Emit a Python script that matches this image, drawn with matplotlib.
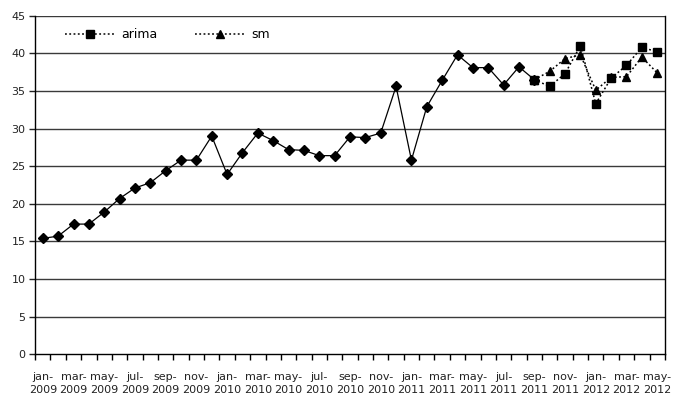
import matplotlib.pyplot as plt
import numpy as np

plt.rcParams['font.family'] = ['DejaVu Sans']

# monthly labels, jan 2009 .. may 2012 (41 months)
months = ['jan', 'feb', 'mar', 'apr', 'may', 'jun', 'jul', 'aug', 'sep', 'oct', 'nov', 'dec']
categories = [f"{months[i % 12]}-\n{2009 + i // 12}" for i in range(41)]

# observed series (jan 2009 .. sep 2011)
actual = [15.4, 15.7, 17.3, 17.3, 18.9, 20.7, 22.1, 22.8, 24.4, 25.8,
          25.8, 29.0, 23.9, 26.8, 29.4, 28.4, 27.2, 27.1, 26.4, 26.4,
          28.9, 28.8, 29.4, 35.6, 25.8, 32.9, 36.4, 39.8, 38.1, 38.1,
          35.8, 38.2, 36.5]
# forecasts (sep 2011 .. may 2012)
arima = [36.5, 35.6, 37.3, 41.0, 33.3, 36.7, 38.4, 40.8, 40.2]
sm = [36.5, 37.6, 39.3, 39.8, 35.1, 36.8, 36.9, 39.5, 37.4]

x_act = np.arange(len(actual))
x_fc = np.arange(len(actual) - 1, len(actual) - 1 + len(arima))

fig = plt.figure(figsize=(6.75, 4.03), dpi=100)
ax = fig.add_axes([0.052, 0.121, 0.933, 0.840])

for v in range(5, 46, 5):
    ax.axhline(v, color='#3a3a3a', lw=1.0, zorder=1)

ax.plot(x_act, actual, color='black', lw=0.9, marker='D', ms=5, zorder=3)
ax.plot(x_fc, sm, color='black', lw=1.1, ls=(0, (1.2, 1.6)), marker='^', ms=6, label='sm', zorder=4)
ax.plot(x_fc, arima, color='black', lw=1.1, ls=(0, (1.2, 1.6)), marker='s', ms=5.2, label='arima', zorder=5)

ax.set_xlim(-0.5, len(categories) - 0.5)
ax.set_ylim(0, 45)
ax.set_yticks(range(0, 46, 5))
ax.set_xticks(range(0, len(categories), 2))
ax.set_xticklabels(categories[::2], linespacing=1.3)
ax.set_xticks(np.arange(-0.5, len(categories), 1), minor=True)
ax.tick_params(axis='x', which='major', length=0, pad=13, labelsize=8, colors='#222222')
ax.tick_params(axis='x', which='minor', length=4, width=1, direction='out')
ax.tick_params(axis='y', length=4, width=1, labelsize=8, pad=3, colors='#222222')

for s in ['left', 'bottom', 'right']:
    ax.spines[s].set_color('black')
    ax.spines[s].set_linewidth(1)
ax.spines['top'].set_visible(False)

h, l = ax.get_legend_handles_labels()
ax.legend(h[::-1], l[::-1], loc='upper left', ncol=2, frameon=False, fontsize=9,
          handlelength=4.0, columnspacing=3.0, handletextpad=0.5,
          bbox_to_anchor=(0.035, 0.985), borderaxespad=0.2)

fig.savefig('out.png', dpi=100)
